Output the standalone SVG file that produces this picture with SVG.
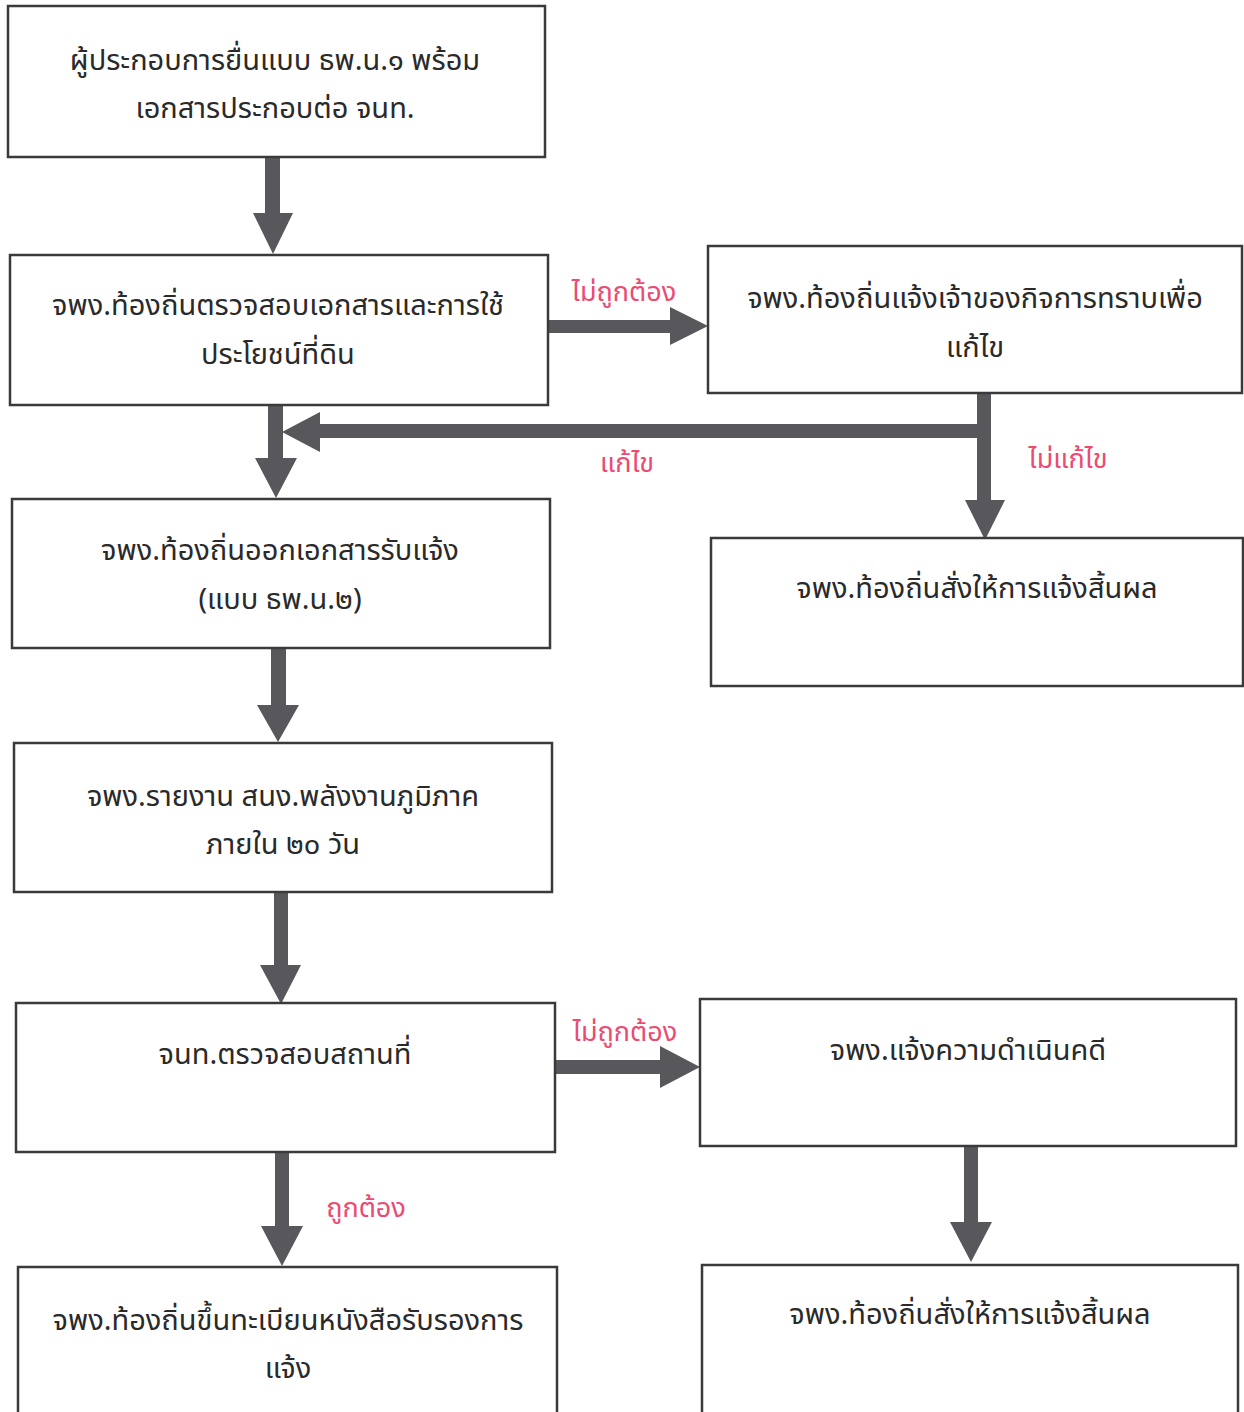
<svg xmlns="http://www.w3.org/2000/svg" width="1244" height="1412" viewBox="0 0 1244 1412">
<style>
.box{fill:#fff;stroke:#3a3a3a;stroke-width:2.5}
.t{font-family:"Noto Sans Thai","Noto Sans","DejaVu Sans",sans-serif;font-size:29px;fill:#2a2a2a;text-anchor:middle}
.lbl{font-family:"Noto Sans Thai","Noto Sans","DejaVu Sans",sans-serif;font-size:27px;fill:#ec4a72;text-anchor:middle}
.arr{fill:#58575c;stroke:none}
</style>
<rect width="1244" height="1412" fill="#fff"/>
<g id="connectors">
<path class="arr" d="M265,157 H280 V213 H293 L273,254 L253,213 H265 Z"/>
<path class="arr" d="M548,320 H670 V307 L708,326 L670,345 V333 H548 Z"/>
<path class="arr" d="M977,393 H991 V500 H1005 L985,540 L965,500 H977 V438 H320 V452 L282,432 L320,412 V424 H977 Z"/>
<path class="arr" d="M268,405 H283 V458 H297 L276,498 L255,458 H268 Z"/>
<path class="arr" d="M271,648 H286 V705 H299 L278,742 L257,705 H271 Z"/>
<path class="arr" d="M274,892 H288 V965 H301 L281,1004 L260,965 H274 Z"/>
<path class="arr" d="M555,1060 H660 V1046 L700,1067 L660,1088 V1074 H555 Z"/>
<path class="arr" d="M275,1152 H289 V1226 H303 L282,1266 L261,1226 H275 Z"/>
<path class="arr" d="M964,1146 H978 V1222 H992 L971,1262 L950,1222 H964 Z"/>
<text class="lbl" x="624" y="301">ไม่ถูกต้อง</text>
<text class="lbl" x="627" y="472">แก้ไข</text>
<text class="lbl" x="1068" y="468">ไม่แก้ไข</text>
<text class="lbl" x="625" y="1041">ไม่ถูกต้อง</text>
<text class="lbl" x="366" y="1217">ถูกต้อง</text>
</g>
<g id="n1"><rect class="box" x="8" y="6" width="537" height="151"/>
<text class="t" x="275" y="70">ผู้ประกอบการยื่นแบบ ธพ.น.๑ พร้อม</text>
<text class="t" x="275" y="118">เอกสารประกอบต่อ จนท.</text></g>
<g id="n2"><rect class="box" x="10" y="255" width="538" height="150"/>
<text class="t" x="278" y="315">จพง.ท้องถิ่นตรวจสอบเอกสารและการใช้</text>
<text class="t" x="278" y="364">ประโยชน์ที่ดิน</text></g>
<g id="n3"><rect class="box" x="708" y="246" width="534" height="147"/>
<text class="t" x="975" y="308">จพง.ท้องถิ่นแจ้งเจ้าของกิจการทราบเพื่อ</text>
<text class="t" x="975" y="357">แก้ไข</text></g>
<g id="n4"><rect class="box" x="12" y="499" width="538" height="149"/>
<text class="t" x="280" y="560">จพง.ท้องถิ่นออกเอกสารรับแจ้ง</text>
<text class="t" x="280" y="609">(แบบ ธพ.น.๒)</text></g>
<g id="n5"><rect class="box" x="711" y="538" width="532" height="148"/>
<text class="t" x="977" y="598">จพง.ท้องถิ่นสั่งให้การแจ้งสิ้นผล</text></g>
<g id="n6"><rect class="box" x="14" y="743" width="538" height="149"/>
<text class="t" x="283" y="806">จพง.รายงาน สนง.พลังงานภูมิภาค</text>
<text class="t" x="283" y="854">ภายใน ๒๐ วัน</text></g>
<g id="n7"><rect class="box" x="16" y="1003" width="539" height="149"/>
<text class="t" x="285" y="1064">จนท.ตรวจสอบสถานที่</text></g>
<g id="n8"><rect class="box" x="700" y="999" width="536" height="147"/>
<text class="t" x="968" y="1060">จพง.แจ้งความดำเนินคดี</text></g>
<g id="n9"><rect class="box" x="18" y="1267" width="539" height="150"/>
<text class="t" x="288" y="1330">จพง.ท้องถิ่นขึ้นทะเบียนหนังสือรับรองการ</text>
<text class="t" x="288" y="1378">แจ้ง</text></g>
<g id="n10"><rect class="box" x="702" y="1265" width="536" height="150"/>
<text class="t" x="970" y="1324">จพง.ท้องถิ่นสั่งให้การแจ้งสิ้นผล</text></g>
</svg>
